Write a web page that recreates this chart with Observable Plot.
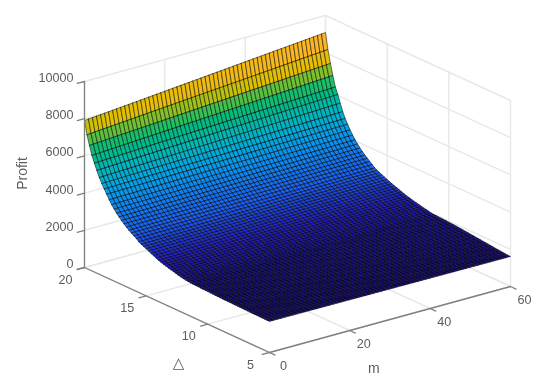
<!DOCTYPE html>
<html><head><meta charset="utf-8">
<script src="https://cdn.jsdelivr.net/npm/d3@7"></script>
<script src="https://cdn.jsdelivr.net/npm/@observablehq/plot@0.6"></script>
<style>html,body{margin:0;padding:0;background:#fff}svg{display:block;filter:blur(.45px)}</style>
</head><body><div id="chart"></div>
<script>
const mValues = d3.range(0, 61);
const deltaValues = d3.range(0, 76).map(k => 20 - k * 0.2);
const profitAtM0 = [7903,7194,6683,6204,5849,5522,5200,4940,4710,4490,4250,4050,3870,3710,3570,3440,3320,3210,3100,3010,2920,2835,2720,2650,2590,2530,2470,2400,2340,2275,2215,2170,2125,2085,2045,2010,1975,1940,1905,1875,1845,1820,1805,1795,1785,1780,1775,1768,1762,1756,1750,1744,1738,1731,1728,1725,1722,1719,1716,1713,1710,1707,1704,1701,1698,1695,1692,1689,1686,1684,1682,1679,1676,1674,1672,1670];
const profitAtM60 = [9086,8233,7543,6957,6400,6060,5650,5260,4950,4700,4460,4240,4050,3880,3730,3590,3470,3360,3250,3140,3020,2950,2890,2830,2770,2710,2650,2595,2545,2500,2450,2400,2350,2310,2270,2235,2200,2170,2140,2110,2080,2050,2025,1989,1982,1975,1967,1960,1952,1945,1937,1930,1923,1908,1894,1880,1866,1852,1838,1824,1810,1796,1782,1768,1754,1740,1726,1712,1698,1684,1670,1656,1642,1628,1620,1613];
const zTicks = [0,2000,4000,6000,8000,10000];
const deltaTicks = [20,15,10,5];
const mTicks = [0,20,40,60];
const colorPositions = [0,.08,.18,.33,.42,.5,.6,.65,.72,.76,.89,1];
const colorStops = ["#1a0f80","#2420c0","#1a60f0","#0a90f0","#00aadd","#00b8b8","#00bb80","#25c060","#90c020","#e0c000","#ffb428","#ffd020"];

// Oblique view of the box: front corner and the three axis edge vectors
const view = {ox:269, oy:352, mx:241, my:-66, dx:-185, dy:-85, zy:-186};
const px = (m,d) => view.ox + m/60*view.mx + (d-5)/15*view.dx;
const py = (m,d,z) => view.oy + m/60*view.my + (d-5)/15*view.dy + z/10000*view.zy;
const pt = (m,d,z) => ({x:px(m,d), y:py(m,d,z)});

const profit = (i,k) => profitAtM0[k] + (profitAtM60[k]-profitAtM0[k]) * mValues[i]/60;

const cells = [];
for (let k = 0; k < deltaValues.length-1; k++) {
  for (let i = 0; i < mValues.length-1; i++) {
    const id = k*100+i, value = profit(i,k+1);
    for (const [ii,kk] of [[i,k],[i+1,k],[i+1,k+1],[i,k+1],[i,k]]) {
      cells.push({...pt(mValues[ii],deltaValues[kk],profit(ii,kk)), id, value});
    }
  }
}

const segs = [];
const seg = (a,b) => {const id=segs.length; segs.push({...a,id},{...b,id});};
const [mMax,dMin,dMax,zMax] = [60,5,20,10000];
for (const z of zTicks) { seg(pt(0,dMax,z),pt(mMax,dMax,z)); seg(pt(mMax,dMax,z),pt(mMax,dMin,z)); }
for (const m of mTicks) { seg(pt(m,dMin,0),pt(m,dMax,0)); seg(pt(m,dMax,0),pt(m,dMax,zMax)); }
for (const d of deltaTicks) { seg(pt(0,d,0),pt(mMax,d,0)); seg(pt(mMax,d,0),pt(mMax,d,zMax)); }

const axisSegs = [];
const aseg = (a,b) => {const id=axisSegs.length; axisSegs.push({...a,id},{...b,id});};
aseg(pt(0,dMax,0),pt(0,dMax,zMax));
aseg(pt(0,dMax,0),pt(0,dMin,0));
aseg(pt(0,dMin,0),pt(mMax,dMin,0));
for (const z of zTicks) aseg(pt(0,dMax,z),pt(-1.8,dMax,z));
for (const d of deltaTicks) aseg(pt(0,d,0),pt(-1.8,d,0));
for (const m of mTicks) aseg(pt(m,dMin,0),pt(m,dMin-0.45,0));

const font = "'Liberation Sans',Arial,sans-serif";
const tickText = {fill:"#5c5c5c", fontSize:12.6, fontFamily:font};
const titleText = {fill:"#5c5c5c", fontSize:14, fontFamily:font};

const plot = Plot.plot({
  width:550, height:392, margin:0,
  x:{domain:[0,550], range:[0,550], axis:null},
  y:{domain:[0,392], range:[0,392], axis:null},
  color:{type:"linear", domain:colorPositions.map(f => 1613+(9086-1613)*f), range:colorStops},
  marks:[
    Plot.line(segs,{x:"x",y:"y",z:"id",stroke:"#e8e8e8",strokeWidth:1.4}),
    Plot.line(cells,{x:"x",y:"y",z:"id",fill:"value",stroke:"#000",strokeWidth:0.6,strokeOpacity:0.85}),
    Plot.line(axisSegs,{x:"x",y:"y",z:"id",stroke:"#808080",strokeWidth:1.3}),
    Plot.text(zTicks,{x:()=>px(0,dMax),y:z=>py(0,dMax,z),text:d=>String(d),dx:-11,dy:-3.5,textAnchor:"end",...tickText}),
    Plot.text(deltaTicks,{x:d=>px(0,d),y:d=>py(0,d,0),text:d=>String(d),dx:-19,dy:12,...tickText}),
    Plot.text(mTicks,{x:m=>px(m,dMin),y:m=>py(m,dMin,0),text:d=>String(d),dx:14,dy:13,...tickText}),
    Plot.text(["m"],{x:()=>px(26,dMin),y:()=>py(26,dMin,0),dx:0,dy:45,...titleText}),
    Plot.text(["△"],{x:()=>px(0,11),y:()=>py(0,11,0),dx:-17,dy:45,fill:"#5c5c5c",fontSize:15,fontFamily:"'DejaVu Sans'"}),
    Plot.text(["Profit"],{x:()=>px(0,dMax),y:()=>py(0,dMax,5000),dx:-62,dy:-1,rotate:-90,...titleText})
  ]
});
document.getElementById("chart").append(plot);
</script></body></html>
